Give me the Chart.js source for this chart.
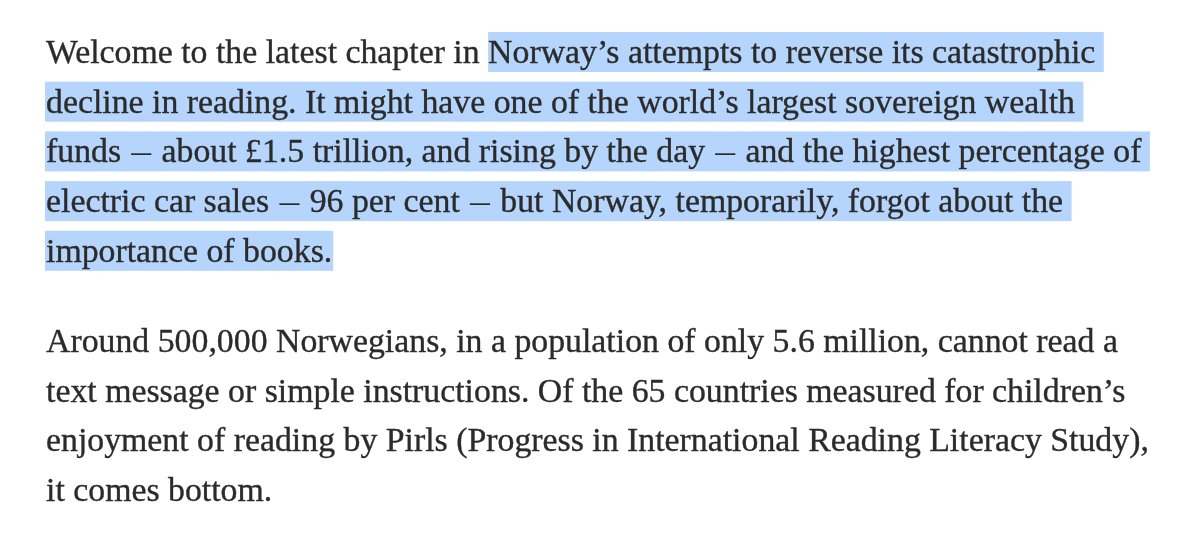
<!DOCTYPE html>
<html>
<head>
<meta charset="utf-8">
<script src="https://cdn.jsdelivr.net/npm/chart.js@4.4.1/dist/chart.umd.min.js"></script>
<style>
  html, body { margin: 0; padding: 0; background: #ffffff; }
  #wrap { width: 1200px; height: 550px; }
</style>
</head>
<body>
<div id="wrap"><canvas id="c" width="1200" height="550"></canvas></div>
<script>
// ---- Content (text lines as they wrap in the reference) ----
const paragraph1Lines = [
  "Welcome to the latest chapter in Norway’s attempts to reverse its catastrophic",
  "decline in reading. It might have one of the world’s largest sovereign wealth",
  "funds — about £1.5 trillion, and rising by the day — and the highest percentage of",
  "electric car sales — 96 per cent — but Norway, temporarily, forgot about the",
  "importance of books."
];
const paragraph2Lines = [
  "Around 500,000 Norwegians, in a population of only 5.6 million, cannot read a",
  "text message or simple instructions. Of the 65 countries measured for children’s",
  "enjoyment of reading by Pirls (Progress in International Reading Literacy Study),",
  "it comes bottom."
];
// Selected (highlighted) text begins at this phrase in paragraph 1 and runs to its end
const selectionStartPhrase = "Norway’s attempts";

// ---- Typography helpers: the reference face has a short dash ----
const FONT = '33.8px "Liberation Serif", "Times New Roman", serif';
const DASH_SCALE = 0.59;
const DASH_PAD = 1.8;

function runsOf(text) {
  const runs = [];
  const re = /—/g;
  let last = 0, m;
  while ((m = re.exec(text)) !== null) {
    if (m.index > last) runs.push({ t: text.slice(last, m.index), k: 'n' });
    runs.push({ t: m[0], k: 'd' });
    last = m.index + m[0].length;
  }
  if (last < text.length) runs.push({ t: text.slice(last), k: 'n' });
  return runs;
}
function runWidth(ctx, r) {
  const w = ctx.measureText(r.t).width;
  return r.k === 'd' ? w * DASH_SCALE + 2 * DASH_PAD : w;
}
function textWidth(ctx, text) {
  return runsOf(text).reduce((s, r) => s + runWidth(ctx, r), 0);
}
function drawText(ctx, text, x, y) {
  runsOf(text).forEach(r => {
    const w = runWidth(ctx, r);
    if (r.k === 'n') {
      ctx.fillText(r.t, x, y);
      ctx.strokeText(r.t, x, y);
    } else {
      ctx.save();
      ctx.translate(x + DASH_PAD, y);
      ctx.scale(DASH_SCALE, 1);
      ctx.fillText(r.t, 0, 0);
      ctx.restore();
    }
    x += w;
  });
}

const textPlugin = {
  id: 'articleText',
  afterDraw(chart) {
    const ctx = chart.ctx;
    const left = 46;
    const lineStep = 49.7;
    const p1Top = 63;
    const p2Top = 352;
    ctx.save();
    ctx.font = FONT;
    ctx.textBaseline = 'alphabetic';
    const space = ctx.measureText(' ').width;

    // selection highlight
    let selecting = false;
    paragraph1Lines.forEach((line, i) => {
      const base = p1Top + i * lineStep;
      let startX = left - 1;
      let seg = line;
      if (!selecting) {
        const idx = line.indexOf(selectionStartPhrase);
        if (idx < 0) return;
        selecting = true;
        startX = left + textWidth(ctx, line.slice(0, idx));
        seg = line.slice(idx);
      }
      const last = i === paragraph1Lines.length - 1;
      const endX = (startX === left - 1 ? left : startX) + textWidth(ctx, seg) + (last ? 1 : space);
      ctx.fillStyle = '#b6d5fc';
      ctx.fillRect(startX, base - 31, endX - startX, 40);
    });

    ctx.fillStyle = '#2b2b2b';
    ctx.strokeStyle = '#2b2b2b';
    ctx.lineWidth = 0.35;
    paragraph1Lines.forEach((line, i) => drawText(ctx, line, left, p1Top + i * lineStep));
    paragraph2Lines.forEach((line, i) => drawText(ctx, line, left, p2Top + i * lineStep));
    ctx.restore();
  }
};

new Chart(document.getElementById('c'), {
  type: 'scatter',
  data: { datasets: [] },
  options: {
    responsive: false,
    animation: false,
    events: [],
    layout: { padding: 0 },
    plugins: { legend: { display: false }, tooltip: { enabled: false }, title: { display: false } },
    scales: { x: { display: false }, y: { display: false } }
  },
  plugins: [textPlugin]
});
</script>
</body>
</html>
